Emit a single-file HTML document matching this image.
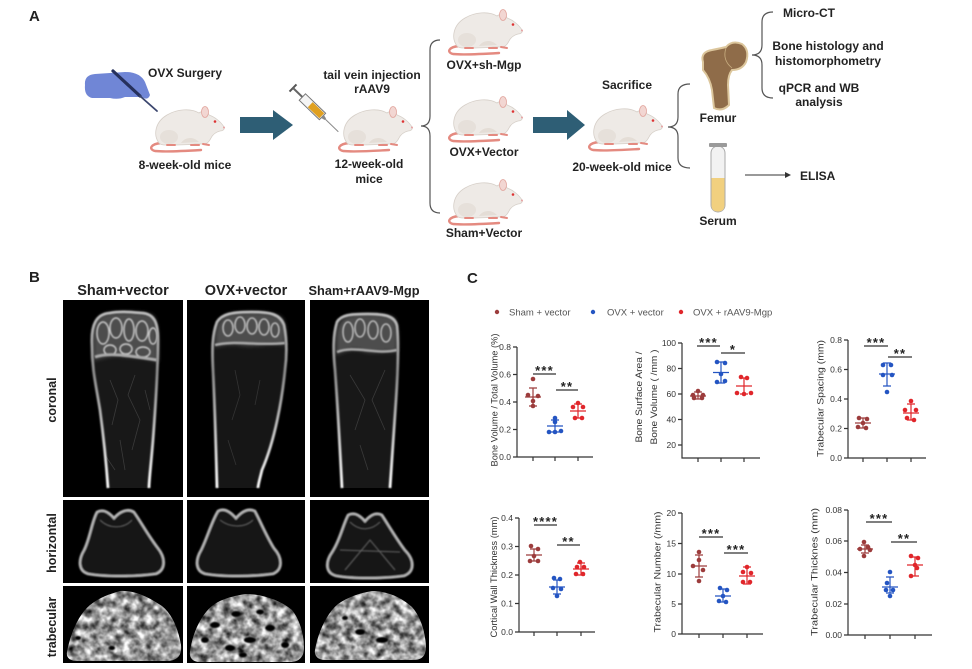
<!DOCTYPE html>
<html><head><meta charset="utf-8"><style>
html,body{margin:0;padding:0;background:#fff;}
svg{display:block;font-family:"Liberation Sans",Arial,sans-serif;}
.b{font-weight:bold;fill:#222;}
.t{font-size:8.5px;fill:#333;}
.ti{font-size:9.5px;fill:#333;}
.st{font-size:13px;font-weight:bold;fill:#222;letter-spacing:1.2px;}
.ax{stroke:#333;stroke-width:1.2;fill:none;}
</style></head><body>
<svg width="972" height="669" viewBox="0 0 972 669" xmlns="http://www.w3.org/2000/svg">
<defs>
<symbol id="mouse" viewBox="0 0 80 48">
<path d="M16,38 C6,39 3,44 10,46 C20,47 40,46 56,45" stroke="#e48a80" stroke-width="2.4" fill="none" stroke-linecap="round"/>
<path d="M14,38 C8,30 10,17 22,10 C32,4 46,3 54,8 C58,5 63,6 64,10 C70,12 76,17 79,22 C80,24 78,26 75,26 C71,27 68,29 66,33 C64,37 62,39 58,39 L50,39 C44,40 28,40 20,40 C17,40 15,39 14,38 Z" fill="#eeeae6" stroke="#d6cfc8" stroke-width="0.8"/>
<ellipse cx="24" cy="32" rx="9" ry="7" fill="#e6e0da"/>
<path d="M36,38 C40,32 48,31 54,37 Z" fill="#e4ddd6"/>
<ellipse cx="60" cy="7" rx="3.5" ry="5.5" fill="#f2d6d2" stroke="#e2a69e" stroke-width="0.8"/>
<circle cx="70" cy="16.5" r="1.3" fill="#d33"/>
<circle cx="79" cy="22.5" r="1" fill="#e7a1a1"/>
<path d="M22,40 L30,40 M46,40 L54,40 M58,39 L64,40" stroke="#e48a80" stroke-width="2" stroke-linecap="round"/>
</symbol>
<filter id="blur1" x="-10%" y="-10%" width="120%" height="120%"><feGaussianBlur stdDeviation="0.7"/></filter>
<filter id="blur2" x="-20%" y="-20%" width="140%" height="140%"><feGaussianBlur stdDeviation="2"/></filter>
<filter id="trab" x="-5%" y="-5%" width="110%" height="110%" color-interpolation-filters="sRGB">
<feTurbulence type="fractalNoise" baseFrequency="0.13" numOctaves="3" seed="7" result="n"/>
<feColorMatrix in="n" type="matrix" values="1.5 0 0 0 -0.15  1.5 0 0 0 -0.15  1.5 0 0 0 -0.15  0 0 0 0 1" result="g"/>
<feGaussianBlur in="g" stdDeviation="0.4" result="gb"/>
<feComposite in="gb" in2="SourceAlpha" operator="in"/>
</filter>
<linearGradient id="edgeG" gradientUnits="userSpaceOnUse" x1="0" y1="310" x2="0" y2="490">
<stop offset="0" stop-color="#c0c0c0"/><stop offset="0.35" stop-color="#8c8c8c"/><stop offset="1" stop-color="#ffffff"/>
</linearGradient>
</defs>

<!-- ================= PANEL A ================= -->
<text x="29" y="21" class="b" style="font-size:15px">A</text>

<path d="M85,85 Q84,75 95,74 L125,72 Q140,72 145,82 L150,95 Q148,101 142,97 L125,97 Q118,100 110,98 L92,98 Q84,96 85,85 Z" fill="#7086d6"/>
<path d="M113,71 L140,96" stroke="#26305c" stroke-width="3.2" stroke-linecap="round"/>
<path d="M140,96 L157,111" stroke="#3b466e" stroke-width="1.8" stroke-linecap="round"/>
<text x="185" y="77" class="b" style="font-size:12px" text-anchor="middle">OVX Surgery</text>
<use href="#mouse" x="145" y="105" width="80" height="48"/>
<text x="185" y="169" class="b" style="font-size:12px" text-anchor="middle">8-week-old mice</text>

<path d="M240,117 L273,117 L273,110 L293,125 L273,140 L273,133 L240,133 Z" fill="#2e5e75"/>

<g transform="translate(293,88) rotate(44)">
<path d="M0,-5 L0,5" stroke="#555" stroke-width="2"/>
<path d="M0,0 L13,0" stroke="#666" stroke-width="2"/>
<rect x="13" y="-4.5" width="28" height="9" fill="#f4f4f4" stroke="#777" stroke-width="1"/>
<rect x="24" y="-3.5" width="16" height="7" fill="#e0a020"/>
<path d="M41,-2 L45,-1 L45,1 L41,2 Z" fill="#888"/>
<path d="M45,0 L63,0" stroke="#888" stroke-width="1"/>
</g>
<text x="372" y="79" class="b" style="font-size:12px" text-anchor="middle">tail vein injection</text>
<text x="372" y="93" class="b" style="font-size:12px" text-anchor="middle">rAAV9</text>
<use href="#mouse" x="333" y="105" width="80" height="48"/>
<text x="369" y="168" class="b" style="font-size:12px" text-anchor="middle">12-week-old</text>
<text x="369" y="183" class="b" style="font-size:12px" text-anchor="middle">mice</text>

<path d="M440,40 Q430,40 430,50 L430,116 Q430,126 421,126 Q430,126 430,136 L430,203 Q430,213 440,213" stroke="#555" stroke-width="1.2" fill="none"/>

<use href="#mouse" x="443" y="8" width="80" height="48"/>
<text x="484" y="69" class="b" style="font-size:12px" text-anchor="middle">OVX+sh-Mgp</text>
<use href="#mouse" x="443" y="95" width="80" height="48"/>
<text x="484" y="156" class="b" style="font-size:12px" text-anchor="middle">OVX+Vector</text>
<use href="#mouse" x="443" y="178" width="80" height="48"/>
<text x="484" y="237" class="b" style="font-size:12px" text-anchor="middle">Sham+Vector</text>

<path d="M533,117 L567,117 L567,110 L585,125 L567,140 L567,133 L533,133 Z" fill="#2e5e75"/>
<text x="627" y="89" class="b" style="font-size:12px" text-anchor="middle">Sacrifice</text>
<use href="#mouse" x="583" y="104" width="80" height="48"/>
<text x="622" y="171" class="b" style="font-size:12px" text-anchor="middle">20-week-old mice</text>

<path d="M690,84 Q678,84 678,94 L678,117 Q678,127 668,127 Q678,127 678,137 L678,158 Q678,168 690,168" stroke="#555" stroke-width="1.2" fill="none"/>

<path d="M703,62 Q700,52 712,50 Q722,48 726,47 Q732,40 742,44 Q750,50 746,62 Q742,70 732,70 Q728,75 728,85 L729,105 Q722,112 714,108 L712,90 Q710,78 703,70 Z" fill="#8f6c49" stroke="#dcc69c" stroke-width="2"/>
<path d="M726,48 Q722,60 732,68" stroke="#c8ad80" stroke-width="0.8" fill="none"/>
<text x="718" y="122" class="b" style="font-size:12px" text-anchor="middle">Femur</text>

<rect x="711" y="146" width="14" height="66" rx="7" ry="7" fill="#f2f2f2" stroke="#aaa" stroke-width="1"/>
<path d="M711.5,178 L724.5,178 L724.5,205 Q724.5,211.5 718,211.5 Q711.5,211.5 711.5,205 Z" fill="#f1d07f"/>
<rect x="709" y="143" width="18" height="4" rx="1" fill="#9a9a9a"/>
<text x="718" y="225" class="b" style="font-size:12px" text-anchor="middle">Serum</text>

<path d="M745,175 L786,175" stroke="#333" stroke-width="1"/>
<path d="M785,172 L791,175 L785,178 Z" fill="#333"/>
<text x="800" y="180" class="b" style="font-size:12px">ELISA</text>

<path d="M773,12 Q762,12 762,22 L762,45 Q762,55 752,55 Q762,55 762,65 L762,88 Q762,98 773,98" stroke="#555" stroke-width="1.2" fill="none"/>
<text x="809" y="17" class="b" style="font-size:12px" text-anchor="middle">Micro-CT</text>
<text x="828" y="50" class="b" style="font-size:12px" text-anchor="middle">Bone histology and</text>
<text x="828" y="65" class="b" style="font-size:12px" text-anchor="middle">histomorphometry</text>
<text x="819" y="92" class="b" style="font-size:12px" text-anchor="middle">qPCR and WB</text>
<text x="819" y="106" class="b" style="font-size:12px" text-anchor="middle">analysis</text>

<!-- ================= PANEL B ================= -->
<text x="29" y="282" class="b" style="font-size:15px">B</text>
<text x="123" y="295" class="b" style="font-size:14.5px" text-anchor="middle">Sham+vector</text>
<text x="246" y="295" class="b" style="font-size:14.5px" text-anchor="middle">OVX+vector</text>
<text x="364" y="295" class="b" style="font-size:12.8px" text-anchor="middle">Sham+rAAV9-Mgp</text>

<text transform="translate(56,400) rotate(-90)" class="b" style="font-size:12.5px" text-anchor="middle">coronal</text>
<text transform="translate(56,543) rotate(-90)" class="b" style="font-size:12.5px" text-anchor="middle">horizontal</text>
<text transform="translate(56,627) rotate(-90)" class="b" style="font-size:12.5px" text-anchor="middle">trabecular</text>

<rect x="63" y="300" width="120" height="197" fill="#000"/>
<rect x="187" y="300" width="118" height="197" fill="#000"/>
<rect x="310" y="300" width="119" height="197" fill="#000"/>
<rect x="63" y="500" width="120" height="83" fill="#000"/>
<rect x="187" y="500" width="118" height="83" fill="#000"/>
<rect x="310" y="500" width="119" height="83" fill="#000"/>
<rect x="63" y="586" width="120" height="77" fill="#000"/>
<rect x="187" y="586" width="118" height="77" fill="#000"/>
<rect x="310" y="586" width="119" height="77" fill="#000"/>

<!-- coronal bone 1 -->
<path d="M108,488 C106,460 104,440 100,410 C96,385 92,370 92,345 C91,325 96,314 110,313 C120,311 130,312 142,313 C154,314 158,322 158,340 C158,370 156,400 153,440 C151,465 149,480 149,488 Z" fill="#181818"/>
<g stroke="#3a3a3a" stroke-width="0.8" fill="none">
<path d="M110,380 L118,400 L112,425"/><path d="M135,375 L128,395 L140,420 L132,450"/><path d="M120,440 L125,470"/><path d="M145,390 L150,410"/><path d="M105,455 L115,470"/>
</g>
<path d="M93,345 C92,325 97,314 110,313 C125,311 145,312 152,315 C158,320 158,335 158,362 C145,356 130,358 120,356 C108,355 98,360 93,360 Z" fill="#4e4e4e" filter="url(#blur2)"/>
<g stroke="#cfcfcf" stroke-width="1.4" fill="none" filter="url(#blur1)">
<ellipse cx="103" cy="333" rx="6" ry="11"/><ellipse cx="116" cy="328" rx="6" ry="10"/><ellipse cx="129" cy="330" rx="5" ry="11"/><ellipse cx="142" cy="331" rx="6" ry="10"/><ellipse cx="153" cy="336" rx="4" ry="8"/><ellipse cx="110" cy="350" rx="6" ry="5"/><ellipse cx="126" cy="349" rx="6" ry="5"/><ellipse cx="143" cy="352" rx="7" ry="5"/>
<path d="M95,357 C110,352 130,356 157,360" stroke="#aaa" stroke-width="3"/>
</g>
<path d="M108,488 C106,460 104,440 100,410 C96,385 92,370 92,345 C91,325 96,314 110,313 C120,311 130,312 142,313 C154,314 158,322 158,340 C158,370 156,400 153,440 C151,465 149,480 149,488" stroke="url(#edgeG)" stroke-width="2.8" fill="none" filter="url(#blur1)"/>

<!-- coronal bone 2 -->
<path d="M217,488 C216,450 215,410 213,370 C212,350 212,335 217,322 C222,314 232,312 252,312 C270,312 280,314 284,325 C287,340 287,355 285,370 C282,400 275,440 262,470 C260,478 258,485 258,488 Z" fill="#161616"/>
<g stroke="#333" stroke-width="0.8" fill="none">
<path d="M235,370 L240,395 L232,420"/><path d="M260,380 L255,405"/><path d="M228,440 L236,465"/>
</g>
<path d="M215,340 C215,325 220,314 235,313 C255,311 275,312 282,318 C286,325 286,335 285,345 C270,342 255,348 240,345 C228,343 220,346 215,347 Z" fill="#4e4e4e" filter="url(#blur2)"/>
<g stroke="#cfcfcf" stroke-width="1.3" fill="none" filter="url(#blur1)">
<ellipse cx="228" cy="328" rx="5" ry="8"/><ellipse cx="240" cy="325" rx="5" ry="8"/><ellipse cx="252" cy="326" rx="5" ry="8"/><ellipse cx="264" cy="327" rx="5" ry="8"/><ellipse cx="275" cy="330" rx="4" ry="7"/>
<path d="M215,345 C235,340 255,346 285,343" stroke="#aaa" stroke-width="2.5"/>
</g>
<path d="M217,488 C216,450 215,410 213,370 C212,350 212,335 217,322 C222,314 232,312 252,312 C270,312 280,314 284,325 C287,340 287,355 285,370 C282,400 275,440 262,470 C260,478 258,485 258,488" stroke="url(#edgeG)" stroke-width="2.8" fill="none" filter="url(#blur1)"/>

<!-- coronal bone 3 -->
<path d="M342,488 C340,450 338,410 335,370 C333,350 333,335 337,322 C341,315 350,314 368,314 C385,314 395,316 397,326 C399,345 398,370 396,400 C394,430 392,460 390,488 Z" fill="#181818"/>
<g stroke="#3a3a3a" stroke-width="0.8" fill="none">
<path d="M350,375 L365,400 L355,430"/><path d="M385,370 L372,400 L385,430"/><path d="M360,445 L368,470"/>
</g>
<path d="M336,345 C335,328 340,316 352,315 C370,313 388,314 394,318 C398,325 398,338 397,352 C385,350 372,355 360,350 C350,348 342,352 336,355 Z" fill="#4e4e4e" filter="url(#blur2)"/>
<g stroke="#cfcfcf" stroke-width="1.3" fill="none" filter="url(#blur1)">
<ellipse cx="348" cy="332" rx="5" ry="10"/><ellipse cx="360" cy="328" rx="5" ry="9"/><ellipse cx="373" cy="330" rx="5" ry="9"/><ellipse cx="386" cy="333" rx="5" ry="9"/>
<path d="M337,352 C355,345 375,355 397,350" stroke="#aaa" stroke-width="2.5"/>
</g>
<path d="M342,488 C340,450 338,410 335,370 C333,350 333,335 337,322 C341,315 350,314 368,314 C385,314 395,316 397,326 C399,345 398,370 396,400 C394,430 392,460 390,488" stroke="url(#edgeG)" stroke-width="2.8" fill="none" filter="url(#blur1)"/>

<!-- horizontal sections -->
<g stroke="#b5b5b5" stroke-width="2.6" fill="#141414" filter="url(#blur1)">
<path d="M97,512 C102,509 108,511 114,518 C120,511 128,508 134,512 C140,520 148,535 158,548 C166,558 166,570 156,574 C135,577 105,577 88,574 C78,571 78,560 84,550 C90,538 92,520 97,512 Z"/>
<path d="M218,511 C223,508 229,510 236,518 C243,510 249,508 255,511 C260,520 266,535 274,548 C283,558 283,570 273,574 C252,577 222,577 205,574 C195,571 195,560 201,550 C207,538 212,520 218,511 Z"/>
<path d="M348,515 C353,512 359,514 365,521 C371,514 377,512 382,515 C388,524 396,538 405,550 C415,560 415,572 404,576 C382,579 352,579 336,576 C325,573 325,562 332,552 C340,540 343,524 348,515 Z"/>
</g>
<g stroke="#666" stroke-width="1" fill="none" filter="url(#blur1)">
<path d="M100,520 C110,530 125,528 132,520"/><path d="M220,520 C230,528 245,528 253,520"/>
<path d="M350,522 C360,532 372,530 380,522"/><path d="M345,570 L370,540 L395,570"/><path d="M340,550 L400,552"/>
</g>

<!-- trabecular -->
<g filter="url(#trab)" fill="#fff">
<path d="M67,652 C70,635 78,615 90,605 C100,597 110,594 120,591 C135,590 150,598 162,606 C172,614 178,628 181,645 C182,655 178,660 168,661 L78,661 C70,661 66,658 67,652 Z"/>
<path d="M190,652 C192,635 200,616 212,606 C222,598 235,596 245,594 C262,594 280,600 292,610 C300,620 304,635 304,648 C304,657 299,662 290,662 L200,662 C193,662 189,658 190,652 Z"/>
<path d="M315,650 C318,633 326,614 338,604 C348,597 360,593 372,591 C388,591 402,598 412,607 C421,617 425,632 426,646 C426,656 422,660 413,660 L325,660 C318,660 314,656 315,650 Z"/>
</g>
<g fill="#000" filter="url(#blur1)">
<ellipse cx="78" cy="638" rx="3" ry="2"/><ellipse cx="112" cy="648" rx="3" ry="2"/>
<ellipse cx="215" cy="625" rx="5" ry="3"/><ellipse cx="236" cy="614" rx="5" ry="3"/><ellipse cx="250" cy="640" rx="6" ry="3"/><ellipse cx="270" cy="628" rx="5" ry="3"/><ellipse cx="230" cy="648" rx="5" ry="3"/><ellipse cx="285" cy="645" rx="4" ry="3"/><ellipse cx="205" cy="640" rx="4" ry="3"/><ellipse cx="260" cy="612" rx="4" ry="2.5"/><ellipse cx="243" cy="655" rx="4" ry="2.5"/>
<ellipse cx="360" cy="632" rx="5" ry="3"/><ellipse cx="382" cy="640" rx="6" ry="3"/><ellipse cx="345" cy="618" rx="3" ry="2"/>
</g>

<!-- ================= PANEL C ================= -->
<text x="467" y="283" class="b" style="font-size:15px">C</text>
<circle cx="497" cy="312" r="2.2" fill="#9c3c3c"/>
<text x="509" y="315.5" style="font-size:9.5px;fill:#555">Sham + vector</text>
<circle cx="593" cy="312" r="2.2" fill="#2455c2"/>
<text x="607" y="315.5" style="font-size:9.5px;fill:#555">OVX + vector</text>
<circle cx="681" cy="312" r="2.2" fill="#e0262b"/>
<text x="693" y="315.5" style="font-size:9.5px;fill:#555">OVX + rAAV9-Mgp</text>

<!-- P1 -->
<text transform="translate(497.5,400) rotate(-90)" class="ti" text-anchor="middle" textLength="133" lengthAdjust="spacingAndGlyphs">Bone Volume / Total Volume (%)</text>
<path class="ax" d="M517,347 L517,457 L593,457 M513,347 H517 M513,374.5 H517 M513,402 H517 M513,429.5 H517 M513,457 H517 M533,457 V461 M555,457 V461 M578,457 V461"/>
<g class="t" text-anchor="end"><text x="511" y="350">0.8</text><text x="511" y="377.5">0.6</text><text x="511" y="405">0.4</text><text x="511" y="432.5">0.2</text><text x="511" y="460">0.0</text></g>
<path class="ax" d="M533,374 H556 M556,390 H578"/>
<text x="544.5" y="375" class="st" text-anchor="middle">***</text>
<text x="567" y="391" class="st" text-anchor="middle">**</text>
<g fill="#9c3c3c"><circle cx="533" cy="379" r="2.3"/><circle cx="528" cy="395" r="2.3"/><circle cx="538" cy="396" r="2.3"/><circle cx="533" cy="401" r="2.3"/><circle cx="533" cy="406" r="2.3"/></g>
<path d="M525,397 H541 M533,388 V406 M529,388 H537 M529,406 H537" stroke="#9c3c3c" stroke-width="1.2"/>
<g fill="#2455c2"><circle cx="555" cy="418" r="2.3"/><circle cx="555" cy="422" r="2.3"/><circle cx="549" cy="432" r="2.3"/><circle cx="555" cy="432" r="2.3"/><circle cx="561" cy="431" r="2.3"/></g>
<path d="M547,426 H563 M555,420 V432 M551,420 H559 M551,432 H559" stroke="#2455c2" stroke-width="1.2"/>
<g fill="#e0262b"><circle cx="578" cy="403" r="2.3"/><circle cx="573" cy="407" r="2.3"/><circle cx="583" cy="407" r="2.3"/><circle cx="575" cy="418" r="2.3"/><circle cx="582" cy="418" r="2.3"/></g>
<path d="M570,411 H586 M578,404 V418 M574,404 H582 M574,418 H582" stroke="#e0262b" stroke-width="1.2"/>

<!-- P2 -->
<text transform="translate(642,397) rotate(-90)" class="ti" text-anchor="middle" textLength="91" lengthAdjust="spacingAndGlyphs">Bone Surface Area /</text>
<text transform="translate(657,397) rotate(-90)" class="ti" text-anchor="middle" textLength="95" lengthAdjust="spacingAndGlyphs">Bone Volume ( /mm )</text>
<path class="ax" d="M682,343 L682,458 L760,458 M678,343 H682 M678,368.5 H682 M678,394 H682 M678,419.5 H682 M678,445 H682 M698,458 V462 M721,458 V462 M744,458 V462"/>
<g class="t" text-anchor="end"><text x="676" y="346">100</text><text x="676" y="371.5">80</text><text x="676" y="397">60</text><text x="676" y="422.5">40</text><text x="676" y="448">20</text></g>
<path class="ax" d="M697,346 H720 M721,353 H745"/>
<text x="708.5" y="347" class="st" text-anchor="middle">***</text>
<text x="733" y="354" class="st" text-anchor="middle">*</text>
<g fill="#9c3c3c"><circle cx="698" cy="391" r="2.3"/><circle cx="693" cy="395" r="2.3"/><circle cx="703" cy="395" r="2.3"/><circle cx="694" cy="398" r="2.3"/><circle cx="702" cy="398" r="2.3"/></g>
<path d="M690,396 H706 M698,392 V399 M694,392 H702 M694,399 H702" stroke="#9c3c3c" stroke-width="1.2"/>
<g fill="#2455c2"><circle cx="717" cy="362" r="2.3"/><circle cx="725" cy="363" r="2.3"/><circle cx="721" cy="374" r="2.3"/><circle cx="717" cy="382" r="2.3"/><circle cx="725" cy="381" r="2.3"/></g>
<path d="M713,372.5 H729 M721,362 V383 M717,362 H725 M717,383 H725" stroke="#2455c2" stroke-width="1.2"/>
<g fill="#e0262b"><circle cx="741" cy="377" r="2.3"/><circle cx="747" cy="378" r="2.3"/><circle cx="737" cy="393" r="2.3"/><circle cx="744" cy="394" r="2.3"/><circle cx="751" cy="393" r="2.3"/></g>
<path d="M736,386 H752 M744,378 V394 M740,378 H748 M740,394 H748" stroke="#e0262b" stroke-width="1.2"/>

<!-- P3 -->
<text transform="translate(823.5,398.5) rotate(-90)" class="ti" text-anchor="middle" textLength="117" lengthAdjust="spacingAndGlyphs">Trabecular Spacing (mm)</text>
<path class="ax" d="M848,340 L848,458 L926,458 M844,340 H848 M844,369.5 H848 M844,399 H848 M844,428.5 H848 M844,458 H848 M863,458 V462 M887,458 V462 M911,458 V462"/>
<g class="t" text-anchor="end"><text x="842" y="343">0.8</text><text x="842" y="372.5">0.6</text><text x="842" y="402">0.4</text><text x="842" y="431.5">0.2</text><text x="842" y="461">0.0</text></g>
<path class="ax" d="M864,346 H888 M888,357 H912"/>
<text x="876" y="347" class="st" text-anchor="middle">***</text>
<text x="900" y="358" class="st" text-anchor="middle">**</text>
<g fill="#9c3c3c"><circle cx="859" cy="418" r="2.3"/><circle cx="867" cy="419" r="2.3"/><circle cx="863" cy="423" r="2.3"/><circle cx="858" cy="427" r="2.3"/><circle cx="866" cy="428" r="2.3"/></g>
<path d="M855,423 H871 M863,418 V428 M859,418 H867 M859,428 H867" stroke="#9c3c3c" stroke-width="1.2"/>
<g fill="#2455c2"><circle cx="883" cy="365" r="2.3"/><circle cx="891" cy="365" r="2.3"/><circle cx="883" cy="375" r="2.3"/><circle cx="892" cy="375" r="2.3"/><circle cx="887" cy="392" r="2.3"/></g>
<path d="M879,374 H895 M887,363 V386 M883,363 H891 M883,386 H891" stroke="#2455c2" stroke-width="1.2"/>
<g fill="#e0262b"><circle cx="911" cy="401" r="2.3"/><circle cx="905" cy="410" r="2.3"/><circle cx="916" cy="410" r="2.3"/><circle cx="907" cy="418" r="2.3"/><circle cx="914" cy="420" r="2.3"/></g>
<path d="M903,413 H919 M911,404 V420 M907,404 H915 M907,420 H915" stroke="#e0262b" stroke-width="1.2"/>

<!-- P4 -->
<text transform="translate(497,577) rotate(-90)" class="ti" text-anchor="middle" textLength="121" lengthAdjust="spacingAndGlyphs">Cortical Wall Thickness (mm)</text>
<path class="ax" d="M519,518 L519,632 L595,632 M515,518 H519 M515,546.5 H519 M515,575 H519 M515,603.5 H519 M515,632 H519 M534,632 V636 M557,632 V636 M581,632 V636"/>
<g class="t" text-anchor="end"><text x="513" y="521">0.4</text><text x="513" y="549.5">0.3</text><text x="513" y="578">0.2</text><text x="513" y="606.5">0.1</text><text x="513" y="635">0.0</text></g>
<path class="ax" d="M534,525 H557 M557,545 H580"/>
<text x="545.5" y="526" class="st" text-anchor="middle">****</text>
<text x="568.5" y="546" class="st" text-anchor="middle">**</text>
<g fill="#9c3c3c"><circle cx="531" cy="546" r="2.3"/><circle cx="538" cy="549" r="2.3"/><circle cx="534" cy="556" r="2.3"/><circle cx="530" cy="561" r="2.3"/><circle cx="538" cy="561" r="2.3"/></g>
<path d="M526,555 H542 M534,549 V561 M530,549 H538 M530,561 H538" stroke="#9c3c3c" stroke-width="1.2"/>
<g fill="#2455c2"><circle cx="554" cy="578" r="2.3"/><circle cx="560" cy="579" r="2.3"/><circle cx="553" cy="588" r="2.3"/><circle cx="561" cy="589" r="2.3"/><circle cx="557" cy="596" r="2.3"/></g>
<path d="M549,587 H565 M557,580 V594 M553,580 H561 M553,594 H561" stroke="#2455c2" stroke-width="1.2"/>
<g fill="#e0262b"><circle cx="580" cy="562" r="2.3"/><circle cx="577" cy="567" r="2.3"/><circle cx="584" cy="567" r="2.3"/><circle cx="576" cy="574" r="2.3"/><circle cx="583" cy="574" r="2.3"/></g>
<path d="M573,569 H589 M581,563 V575 M577,563 H585 M577,575 H585" stroke="#e0262b" stroke-width="1.2"/>

<!-- P5 -->
<text transform="translate(660.5,572) rotate(-90)" class="ti" text-anchor="middle" textLength="121" lengthAdjust="spacingAndGlyphs">Trabecular Number (/mm)</text>
<path class="ax" d="M682,513 L682,634 L763,634 M678,513 H682 M678,543.5 H682 M678,574 H682 M678,604 H682 M678,634 H682 M699,634 V638 M723,634 V638 M747,634 V638"/>
<g class="t" text-anchor="end"><text x="676" y="516">20</text><text x="676" y="546.5">15</text><text x="676" y="577">10</text><text x="676" y="607">5</text><text x="676" y="637">0</text></g>
<path class="ax" d="M699,537 H723 M724,553 H748"/>
<text x="711" y="538" class="st" text-anchor="middle">***</text>
<text x="736" y="554" class="st" text-anchor="middle">***</text>
<g fill="#9c3c3c"><circle cx="699" cy="552" r="2.3"/><circle cx="699" cy="560" r="2.3"/><circle cx="693" cy="566" r="2.3"/><circle cx="703" cy="570" r="2.3"/><circle cx="699" cy="581" r="2.3"/></g>
<path d="M691,566 H707 M699,555 V577 M695,555 H703 M695,577 H703" stroke="#9c3c3c" stroke-width="1.2"/>
<g fill="#2455c2"><circle cx="720" cy="588" r="2.3"/><circle cx="727" cy="590" r="2.3"/><circle cx="723" cy="596" r="2.3"/><circle cx="719" cy="601" r="2.3"/><circle cx="726" cy="602" r="2.3"/></g>
<path d="M715,596 H731 M723,589 V602 M719,589 H727 M719,602 H727" stroke="#2455c2" stroke-width="1.2"/>
<g fill="#e0262b"><circle cx="747" cy="567" r="2.3"/><circle cx="743" cy="572" r="2.3"/><circle cx="751" cy="573" r="2.3"/><circle cx="743" cy="582" r="2.3"/><circle cx="750" cy="582" r="2.3"/></g>
<path d="M739,576 H755 M747,567 V584 M743,567 H751 M743,584 H751" stroke="#e0262b" stroke-width="1.2"/>

<!-- P6 -->
<text transform="translate(817.5,572) rotate(-90)" class="ti" text-anchor="middle" textLength="128" lengthAdjust="spacingAndGlyphs">Trabecular Thicknes (mm)</text>
<path class="ax" d="M848,510 L848,635 L932,635 M844,510 H848 M844,541 H848 M844,572.5 H848 M844,604 H848 M844,635 H848 M865,635 V639 M890,635 V639 M915,635 V639"/>
<g class="t" text-anchor="end"><text x="842" y="513">0.08</text><text x="842" y="544">0.06</text><text x="842" y="575.5">0.04</text><text x="842" y="607">0.02</text><text x="842" y="638">0.00</text></g>
<path class="ax" d="M866,522 H892 M891,542 H917"/>
<text x="879" y="523" class="st" text-anchor="middle">***</text>
<text x="904" y="543" class="st" text-anchor="middle">**</text>
<g fill="#9c3c3c"><circle cx="864" cy="542" r="2.3"/><circle cx="868" cy="547" r="2.3"/><circle cx="860" cy="549" r="2.3"/><circle cx="870" cy="550" r="2.3"/><circle cx="864" cy="556" r="2.3"/></g>
<path d="M857,549 H873 M865,545 V553 M861,545 H869 M861,553 H869" stroke="#9c3c3c" stroke-width="1.2"/>
<g fill="#2455c2"><circle cx="890" cy="572" r="2.3"/><circle cx="887" cy="583" r="2.3"/><circle cx="886" cy="590" r="2.3"/><circle cx="893" cy="590" r="2.3"/><circle cx="890" cy="596" r="2.3"/></g>
<path d="M882,587 H898 M890,577 V593 M886,577 H894 M886,593 H894" stroke="#2455c2" stroke-width="1.2"/>
<g fill="#e0262b"><circle cx="911" cy="556" r="2.3"/><circle cx="918" cy="558" r="2.3"/><circle cx="915" cy="565" r="2.3"/><circle cx="917" cy="568" r="2.3"/><circle cx="911" cy="576" r="2.3"/></g>
<path d="M907,565 H923 M915,557 V576 M911,557 H919 M911,576 H919" stroke="#e0262b" stroke-width="1.2"/>
</svg>
</body></html>
